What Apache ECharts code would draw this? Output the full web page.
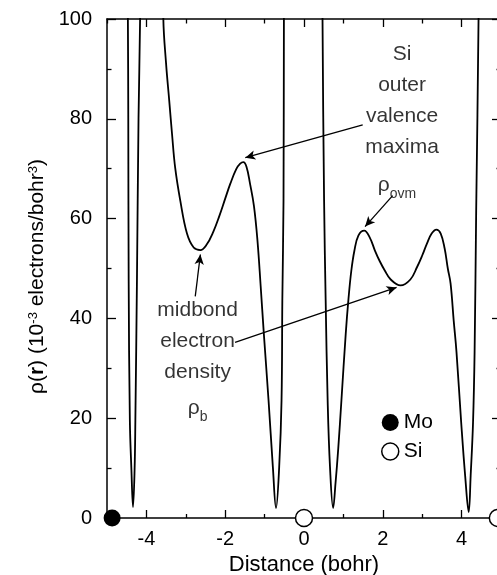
<!DOCTYPE html>
<html>
<head>
<meta charset="utf-8">
<script src="https://cdn.jsdelivr.net/npm/echarts@6/dist/echarts.min.js"></script>
<style>
html, body { margin: 0; padding: 0; background: #fff; }
#main { width: 497px; height: 575px; }
</style>
</head>
<body>
<div id="main"></div>
<script>
// density along the Mo-Si-Si line (values > 100 are clipped)
var densX = [-4.52, -4.47, -4.46, -4.45, -4.42, -4.38, -4.34, -4.30, -4.28, -4.24, -4.20, -4.16, -4.10,
	-3.65, -3.57, -3.50, -3.42, -3.35, -3.27, -3.14, -2.97, -2.80, -2.63, -2.47, -2.30, -2.15, -2.00,
	-1.87, -1.72, -1.62, -1.54, -1.46, -1.37, -1.27, -1.18, -1.10, -1.02, -0.90, -0.79, -0.71,
	-0.63, -0.57, -0.55, -0.52, -0.51, -0.48,
	0.44, 0.47, 0.51, 0.55, 0.60, 0.66, 0.74, 0.80, 0.87, 0.95, 1.06, 1.13, 1.20, 1.28, 1.38, 1.53,
	1.67, 1.80, 1.92, 2.05, 2.20, 2.45, 2.70, 2.87, 3.00, 3.12, 3.24, 3.36, 3.47, 3.57, 3.65, 3.72,
	3.80, 3.87, 3.99, 4.09, 4.18, 4.23, 4.29, 4.33, 4.37, 4.43, 4.47];
var densY = [150, 100, 80, 47.6, 19.6, 9.6, 2.2, 9.6, 19.6, 47.6, 80, 100, 150,
	150, 100, 91, 83.6, 77, 70.2, 63.6, 57, 54.2, 53.7, 54.8, 57.4, 60.5, 64,
	67, 69.9, 71, 71.3, 70.4, 67, 62.5, 55.5, 46.5, 37, 23.6, 10.2, 2,
	10.2, 23.6, 43.6, 63.6, 100, 150,
	150, 100, 63.6, 43.6, 23.6, 10.2, 2, 7, 14, 23.6, 37, 44, 49.5, 53.6, 56.6, 57.6,
	56.2, 53.6, 51.5, 49.6, 47.8, 46.6, 47.8, 50.3, 52.6, 55, 57, 57.8, 57, 54, 50, 47,
	39.5, 33.3, 19.1, 8.5, 1.2, 8.5, 19.1, 33.3, 61.6, 100, 150];

// atom positions on the axis
var moX = [-4.87];
var siX = [0, 4.92];

// ticks
var majorX = [-4, -2, 0, 2, 4];
var minorX = [-5, -3, -1, 1, 3, 5];

// annotations (text centre in data units)
var noteText = ['Si\nouter\nvalence\nmaxima', '{r|ρ}{s|ovm}', 'midbond\nelectron\ndensity', '{r|ρ}{s|b}'];
var noteX = [2.49, 2.36, -2.70, -2.70];
var noteY = [83.6, 66.6, 35.4, 22];

// arrows: [fromX, fromY, toX, toY]
var arrows = [
	[1.49, 78.8, -1.49, 72.2],
	[2.25, 64.6, 1.55, 58.4],
	[-2.76, 44.4, -2.63, 52.8],
	[-1.75, 35.2, 2.35, 46.2]
];

var FONT = 'Liberation Sans';

window.onload = function () {
	var chart = echarts.init(document.getElementById('main'), null, { renderer: 'canvas' });

	var line = [];
	for (var i = 0; i < densX.length; i++) line.push([densX[i], densY[i]]);

	var notes = [];
	for (var i = 0; i < noteText.length; i++) notes.push({ name: noteText[i], value: [noteX[i], noteY[i]] });

	var arrowData = arrows.map(function (a) {
		return [{ coord: [a[0], a[1]] }, { coord: [a[2], a[3]] }];
	});

	var axisLine = { show: true, onZero: false, lineStyle: { color: '#000', width: 1.5 } };
	var tickStyle = { color: '#000', width: 1.3 };

	function xAx(pos, ticks, len, showLine, labels) {
		return {
			type: 'value', min: -5, max: 5, position: pos,
			axisLine: showLine ? axisLine : { show: false, onZero: false },
			axisTick: { show: true, inside: true, length: len, customValues: ticks, lineStyle: tickStyle },
			axisLabel: labels ? { show: true, customValues: ticks, color: '#000', fontFamily: FONT, fontSize: 20, margin: 11 } : { show: false },
			splitLine: { show: false }
		};
	}

	var xb = xAx('bottom', majorX, 8, true, true);
	xb.name = 'Distance (bohr)';
	xb.nameLocation = 'middle';
	xb.nameGap = 21;
	xb.nameTextStyle = { color: '#000', fontFamily: FONT, fontSize: 22 };

	function yAx(pos, labels) {
		return {
			type: 'value', min: 0, max: 100, interval: 20, position: pos,
			axisLine: axisLine,
			axisTick: { show: true, inside: true, length: 9, lineStyle: tickStyle },
			minorTick: { show: true, splitNumber: 2, length: 4.5, lineStyle: tickStyle },
			axisLabel: labels ? { show: true, color: '#000', fontFamily: FONT, fontSize: 20, margin: 15 } : { show: false },
			splitLine: { show: false }
		};
	}

	var yl = yAx('left', true);
	yl.name = '{t|ρ(}{b|r}{t|) (10}{sup|-3}{t| electrons/bohr}{sup|3}{t|)}';
	yl.nameLocation = 'middle';
	yl.nameGap = 58;
	yl.nameTextStyle = {
		color: '#000', fontFamily: FONT, fontSize: 21, padding: [0, 16, 0, 0],
		rich: {
			t: { fontFamily: FONT, fontSize: 21, color: '#000' },
			b: { fontFamily: FONT, fontSize: 21, fontWeight: 'bold', color: '#000' },
			sup: { fontFamily: FONT, fontSize: 13, color: '#000', verticalAlign: 'top' }
		}
	};

	var option = {
		animation: false,
		backgroundColor: '#fff',
		grid: { left: 107, top: 19, width: 394, height: 499, containLabel: false, outerBoundsMode: 'none' },
		xAxis: [
			xb,
			xAx('bottom', minorX, 4, false, false),
			xAx('top', majorX, 8, true, false),
			xAx('top', minorX, 4.5, false, false)
		],
		yAxis: [yl, yAx('right', false)],
		legend: {
			orient: 'vertical', left: 376, top: 407,
			itemWidth: 17, itemHeight: 17, itemGap: 8,
			textStyle: { color: '#000', fontFamily: FONT, fontSize: 21 },
			data: [
				{ name: 'Mo', icon: 'circle', itemStyle: { color: '#000', opacity: 1 } },
				{ name: 'Si', icon: 'circle', itemStyle: { color: '#fff', borderColor: '#000', borderWidth: 1.5, opacity: 1 } }
			]
		},
		series: [
			{
				name: 'density', type: 'line', data: line,
				showSymbol: false, smooth: 0.4, clip: true,
				lineStyle: { color: '#000', width: 1.8 }, z: 3
			},
			{
				name: 'Mo', type: 'scatter', clip: false, z: 6,
				data: moX.map(function (x) { return [x, 0]; }),
				symbol: 'circle', symbolSize: 17, itemStyle: { color: '#000', opacity: 1 }
			},
			{
				name: 'Si', type: 'scatter', clip: false, z: 6,
				data: siX.map(function (x) { return [x, 0]; }),
				symbol: 'circle', symbolSize: 17, itemStyle: { color: '#fff', borderColor: '#000', borderWidth: 1.5, opacity: 1 }
			},
			{
				name: 'notes', type: 'scatter', symbolSize: 0, silent: true, z: 4,
				data: notes,
				label: {
					show: true, position: 'inside', formatter: '{b}',
					color: '#000', fontFamily: FONT, fontSize: 21, lineHeight: 31, align: 'center', verticalAlign: 'middle',
					rich: {
						r: { fontFamily: FONT, fontSize: 21, color: '#000' },
						s: { fontFamily: FONT, fontSize: 14, color: '#000', verticalAlign: 'bottom', padding: [10, 0, 0, 0] }
					}
				},
				markLine: {
					silent: true, symbol: ['none', 'arrow'], symbolSize: [7, 10],
					label: { show: false },
					lineStyle: { color: '#000', width: 1.3, type: 'solid' },
					data: arrowData
				}
			}
		]
	};

	chart.setOption(option);
};
</script>
</body>
</html>
